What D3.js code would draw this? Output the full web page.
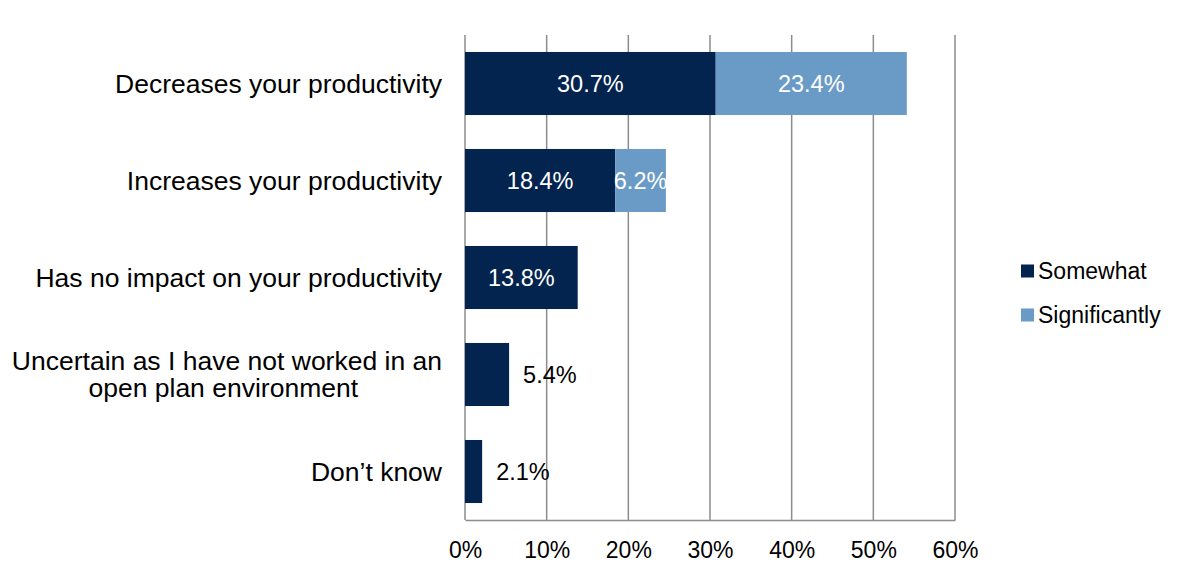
<!DOCTYPE html>
<html><head><meta charset="utf-8">
<script src="https://cdn.jsdelivr.net/npm/d3@7"></script>
<style>body{margin:0;background:#fff}svg{display:block}text{font-family:"Liberation Sans",Arial,sans-serif}</style>
</head><body>
<svg id="c" width="1180" height="578"></svg>
<script>
const categories = ["Decreases your productivity","Increases your productivity","Has no impact on your productivity","Uncertain as I have not worked in an\nopen plan environment","Don\u2019t know"];
const seriesNames = ["Somewhat","Significantly"];
const somewhat = [30.7,18.4,13.8,5.4,2.1];
const significantly = [23.4,6.2,0,0,0];
const xTicks = [0,10,20,30,40,50,60];
const colors = ["#02244e","#6a9bc7"];

(function(){
const svg = d3.select("#c");
const pLeft = 465, pRight = 955, pTop = 35, pBottom = 520;
const x = d3.scaleLinear().domain([0,60]).range([pLeft,pRight]);
const y = d3.scaleBand().domain(categories).range([pTop,pBottom]).paddingInner(0.35).paddingOuter(0.175);

// gridlines
svg.append("g").selectAll("line").data(xTicks).join("line")
  .attr("x1",d=>x(d)).attr("x2",d=>x(d)).attr("y1",pTop).attr("y2",pBottom)
  .attr("stroke","#8c8c8c").attr("stroke-width",1.5);

// bottom axis
const xAxis = d3.axisBottom(x).tickValues(xTicks).tickFormat(d=>d+"%").tickSize(0).tickPadding(22);
const gx = svg.append("g").attr("transform",`translate(0,${pBottom})`).call(xAxis);
gx.select(".domain").attr("stroke","#8c8c8c").attr("stroke-width",1.5);
gx.selectAll("text").attr("font-size",23).attr("fill","#000").attr("font-family","Liberation Sans, Arial, sans-serif");

// stacked data
const rows = categories.map((c,i)=>({cat:c, Somewhat:somewhat[i], Significantly:significantly[i]}));
const stacked = d3.stack().keys(seriesNames)(rows);

stacked.forEach((s,si)=>{
  const g = svg.append("g");
  g.selectAll("rect").data(s).join("rect")
    .attr("x",d=>x(d[0])).attr("width",d=>x(d[1])-x(d[0]))
    .attr("y",d=>y(d.data.cat)).attr("height",y.bandwidth())
    .attr("fill",colors[si]);
  s.forEach(d=>{
    const v = d[1]-d[0];
    if(v<=0) return;
    const w = x(d[1])-x(d[0]);
    const cy = y(d.data.cat)+y.bandwidth()/2;
    const t = g.append("text").attr("font-size",23.5).attr("dy","0.35em").text(v.toFixed(1)+"%");
    if(w>58 || si===1){
      t.attr("x",(x(d[0])+x(d[1]))/2).attr("y",cy).attr("text-anchor","middle").attr("fill","#fff");
    } else {
      t.attr("x",x(d[1])+14).attr("y",cy).attr("text-anchor","start").attr("fill","#000");
    }
  });
});

// category labels (multi-line labels centred as a block, Excel-style with wrap space)
const labelRight = 442;
categories.forEach(c=>{
  const lines = c.split("\n");
  const cy = y(c)+y.bandwidth()/2 - (lines.length>1?0.5:0);
  const lh = 27;
  const g = svg.append("g");
  const texts = lines.map((ln,i)=>g.append("text").attr("font-size",26.5).attr("fill","#000")
     .attr("y",cy + (i-(lines.length-1)/2)*lh).attr("dy","0.35em").text(ln));
  const widths = texts.map(t=>t.node().getComputedTextLength());
  const maxW = d3.max(widths);
  const space = lines.length>1 ? 26.5*0.278 : 0;
  const center = labelRight - maxW/2 + space/2 - (lines.length>1?space:0);
  texts.forEach((t,i)=>{
    if(widths[i]===maxW) t.attr("x",labelRight).attr("text-anchor","end");
    else t.attr("x",labelRight - (maxW+space)/2).attr("text-anchor","middle");
  });
});

// legend
const lg = svg.append("g");
seriesNames.forEach((n,i)=>{
  const ly = 271 + i*44;
  lg.append("rect").attr("x",1021).attr("y",ly-6.5).attr("width",13).attr("height",13).attr("fill",colors[i]);
  lg.append("text").attr("x",1038).attr("y",ly).attr("dy","0.35em").attr("font-size",23).attr("fill","#000").text(n);
});
})();
</script>
</body></html>
